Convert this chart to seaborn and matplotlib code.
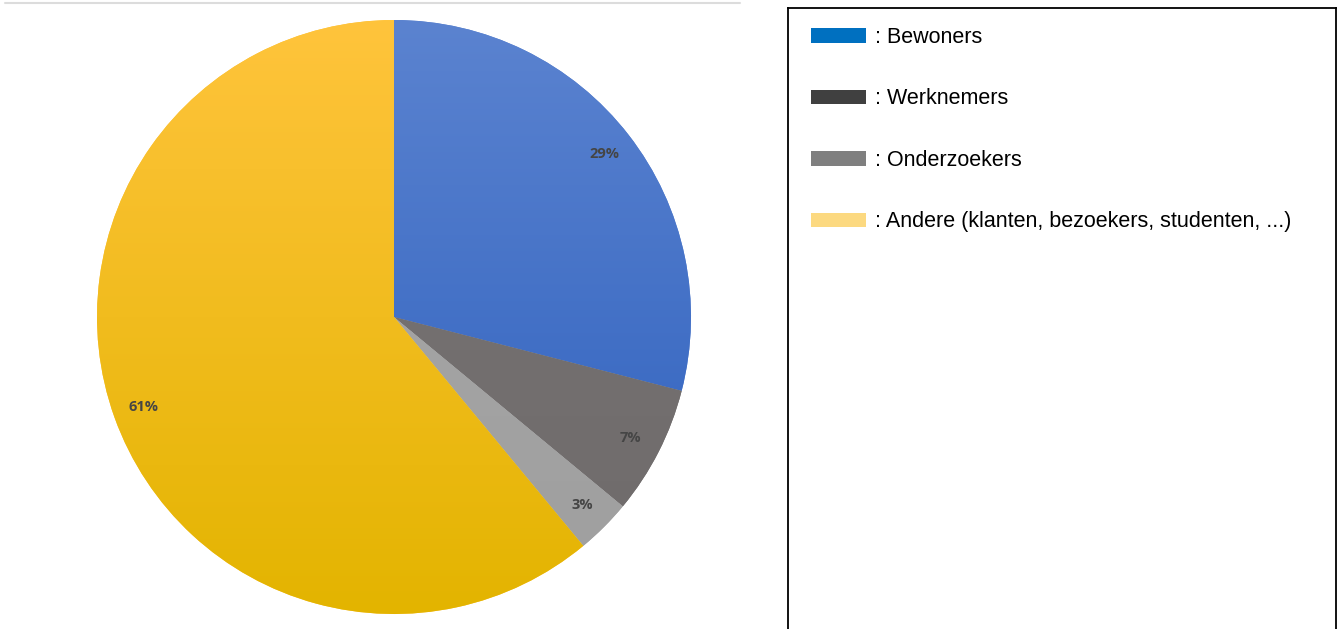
import numpy as np
import matplotlib
matplotlib.use('Agg')
import matplotlib.pyplot as plt
from matplotlib.patches import Patch
from matplotlib.colors import LinearSegmentedColormap
import seaborn as sns

# ============================================================
# data
# ============================================================
groups = ['Bewoners', 'Werknemers', 'Onderzoekers', 'Andere (klanten, bezoekers, studenten, ...)']
shares = [29, 7, 3, 61]

# pie slice colours (top / bottom of the gradient)
slice_top = ['#5b83d0', '#787474', '#a8a8a8', '#ffc43c']
slice_bottom = ['#2c5fbd', '#6f6b6b', '#9f9f9f', '#e3b400']

# legend swatch colours (not the same as the slices in the original)
legend_colors = ['#0070c0', '#404040', '#7f7f7f', '#fcd980']

sns.set_theme(style='white')
plt.rcParams['font.family'] = ['Open Sans', 'DejaVu Sans']
legend_size = 15.5

W, H = 1343, 629
fig = plt.figure(figsize=(W / 100, H / 100), dpi=100)
fig.patch.set_facecolor('white')

# ============================================================
# pie
# ============================================================
cx, cy, r = 394, 317, 297
ax = fig.add_axes([(cx - r) / W, (H - cy - r) / H, 2 * r / W, 2 * r / H])

wedges, texts, autotexts = ax.pie(
    shares,
    startangle=90,
    counterclock=False,
    colors=slice_top,
    autopct='%d%%',
    pctdistance=0.895,
    radius=1,
    wedgeprops=dict(linewidth=0),
    textprops=dict(fontsize=10.5, fontweight='bold', color='#454545'),
)
ax.set_xlim(-1, 1)
ax.set_ylim(-1, 1)
ax.set_aspect('equal')
ax.axis('off')

# vertical gradient inside each wedge
grad = np.linspace(0, 1, 256).reshape(-1, 1)
for w, c0, c1 in zip(wedges, slice_top, slice_bottom):
    cmap = LinearSegmentedColormap.from_list('g', [c0, c1])
    im = ax.imshow(grad, cmap=cmap, extent=(-1, 1, -1, 1), origin='upper',
                   aspect='auto', zorder=w.get_zorder() + 0.01)
    im.set_clip_path(w)
for t in autotexts:
    t.set_zorder(5)

# thin grey line at the top
fig.add_artist(plt.Line2D([5 / W, 740 / W], [1 - 2.5 / H, 1 - 2.5 / H],
                          transform=fig.transFigure, color='#dcdcdc', lw=1.5))

# ============================================================
# legend box
# ============================================================
lax = fig.add_axes([788 / W, -0.1, 548 / W, (H - 8) / H + 0.1])
lax.set_xticks([])
lax.set_yticks([])
for s in lax.spines.values():
    s.set_color('black')
    s.set_linewidth(1.3)

handles = [Patch(facecolor=c, edgecolor='none') for c in legend_colors]
labels = [': ' + g for g in groups]
fs_px = legend_size * 100 / 72
leg = fig.legend(
    handles, labels,
    loc='upper left',
    bbox_to_anchor=(811 / W, 1 - 27 / H),
    bbox_transform=fig.transFigure,
    frameon=False,
    borderpad=0, borderaxespad=0,
    handlelength=55 / fs_px,
    handleheight=14 / fs_px,
    handletextpad=9 / fs_px,
    labelspacing=1.88,
    prop=dict(family=['Liberation Sans', 'DejaVu Sans'], size=legend_size),
)
for t in leg.get_texts():
    t.set_color('black')

plt.savefig('out.png', dpi=100)
